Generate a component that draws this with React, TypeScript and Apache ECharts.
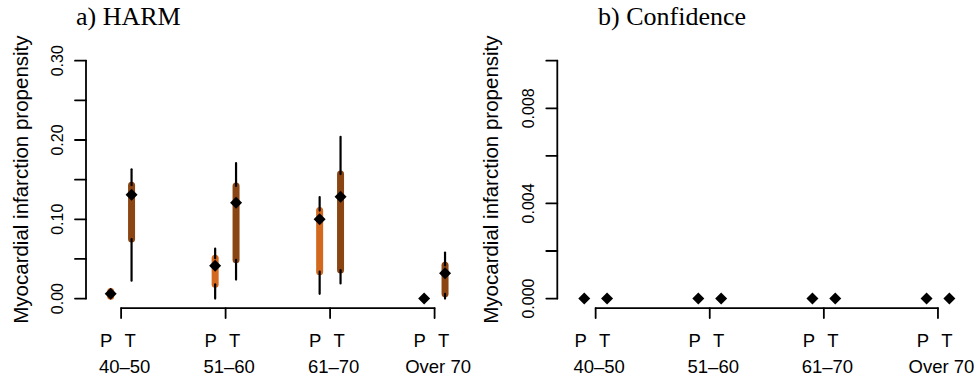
import React, { useEffect, useRef } from "react";
import * as echarts from "echarts";

// ---- data ----
const groups = ["40–50", "51–60", "61–70", "Over 70"];
const groupPos = [1, 2, 3, 4];

// a) HARM
const harmPEst = [0.006, 0.0415, 0.1, 0.0];
const harmPBarLo = [0.003, 0.018, 0.034, 0.0];
const harmPBarHi = [0.009, 0.051, 0.111, 0.0];
const harmPCiLo = [0.003, 0.0, 0.006, 0.0];
const harmPCiHi = [0.009, 0.063, 0.128, 0.0];
const harmTEst = [0.131, 0.121, 0.1285, 0.032];
const harmTBarLo = [0.075, 0.049, 0.036, 0.006];
const harmTBarHi = [0.143, 0.142, 0.157, 0.042];
const harmTCiLo = [0.0226, 0.024, 0.019, 0.0];
const harmTCiHi = [0.163, 0.171, 0.204, 0.058];

// b) Confidence
const confPEst = [0, 0, 0, 0];
const confTEst = [0, 0, 0, 0];
const confBarLo = [0, 0, 0, 0];
const confBarHi = [0, 0, 0, 0];

const harmYTicks = [0, 0.05, 0.1, 0.15, 0.2, 0.25, 0.3];
const harmYLabels = ["0.00", "0.10", "0.20", "0.30"];
const harmYLabelVals = [0, 0.1, 0.2, 0.3];
const confYTicks = [0, 0.002, 0.004, 0.006, 0.008, 0.01];
const confYLabels = ["0.000", "0.004", "0.008"];
const confYLabelVals = [0, 0.004, 0.008];

const panelTitles = ["a) HARM", "b) Confidence"];
const yTitle = "Myocardial infarction propensity";
const seriesLetters = ["P", "T"];

const X_MIN = 0.664;
const X_MAX = 4.336;
const OFFSET = 0.1;
const P_COLOR = "#D2691E";
const T_COLOR = "#8B4513";
const SANS = "Liberation Sans, Arial, Helvetica, sans-serif";

function intervalRender(color: string) {
  return (params: any, api: any) => {
    const x = api.value(0);
    const ciLo = api.value(1);
    const ciHi = api.value(2);
    const bLo = api.value(3);
    const bHi = api.value(4);
    const pCiLo = api.coord([x, ciLo]);
    const pCiHi = api.coord([x, ciHi]);
    const pBLo = api.coord([x, bLo]);
    const pBHi = api.coord([x, bHi]);
    const children: any[] = [];
    if (bHi > bLo) {
      children.push({
        type: "line",
        shape: { x1: pBLo[0], y1: pBLo[1], x2: pBHi[0], y2: pBHi[1] },
        style: { stroke: color, lineWidth: 7, lineCap: "round" },
      });
    }
    if (ciHi > bHi) {
      children.push({
        type: "line",
        shape: { x1: pBHi[0], y1: pBHi[1], x2: pCiHi[0], y2: pCiHi[1] },
        style: { stroke: "#000", lineWidth: 2.2, lineCap: "round" },
      });
    }
    if (bLo > ciLo) {
      children.push({
        type: "line",
        shape: { x1: pCiLo[0], y1: pCiLo[1], x2: pBLo[0], y2: pBLo[1] },
        style: { stroke: "#000", lineWidth: 2.2, lineCap: "round" },
      });
    }
    return { type: "group", children };
  };
}

function axesRender(ticks: number[], labelVals: number[], labels: string[]) {
  return (params: any, api: any) => {
    const cs = params.coordSys;
    const children: any[] = [];
    const stroke = { stroke: "#000", lineWidth: 1.8, lineCap: "round" };
    const bot = api.coord([X_MIN, ticks[0]]);
    const top = api.coord([X_MIN, ticks[ticks.length - 1]]);
    children.push({ type: "line", shape: { x1: bot[0], y1: bot[1], x2: top[0], y2: top[1] }, style: stroke });
    ticks.forEach((v) => {
      const p = api.coord([X_MIN, v]);
      children.push({ type: "line", shape: { x1: p[0] - 11, y1: p[1], x2: p[0], y2: p[1] }, style: stroke });
    });
    labelVals.forEach((v, i) => {
      const p = api.coord([X_MIN, v]);
      children.push({
        type: "text",
        x: p[0] - 29,
        y: p[1],
        rotation: Math.PI / 2,
        style: { text: labels[i], font: `16px ${SANS}`, fill: "#000", align: "center", verticalAlign: "middle" },
      });
    });
    const yb = cs.y + cs.height;
    const g0 = api.coord([groupPos[0], 0])[0];
    const g1 = api.coord([groupPos[groupPos.length - 1], 0])[0];
    children.push({ type: "line", shape: { x1: g0, y1: yb, x2: g1, y2: yb }, style: stroke });
    groupPos.forEach((g, i) => {
      const gx = api.coord([g, 0])[0];
      children.push({ type: "line", shape: { x1: gx, y1: yb, x2: gx, y2: yb + 10 }, style: stroke });
      children.push({
        type: "text", x: gx - 15, y: yb + 32,
        style: { text: seriesLetters[0], font: `18.5px ${SANS}`, fill: "#000", align: "center", verticalAlign: "middle" },
      });
      children.push({
        type: "text", x: gx + 9, y: yb + 32,
        style: { text: seriesLetters[1], font: `18.5px ${SANS}`, fill: "#000", align: "center", verticalAlign: "middle" },
      });
      children.push({
        type: "text", x: gx + 3.5, y: yb + 58,
        style: { text: groups[i], font: `18.5px ${SANS}`, fill: "#000", align: "center", verticalAlign: "middle" },
      });
    });
    return { type: "group", children };
  };
}

function rows(xs: number[], off: number, a: number[], b: number[], c: number[], d: number[]) {
  return xs.map((x, i) => [x + off, a[i], b[i], c[i], d[i]]);
}

export default function App() {
  const ref = useRef<HTMLDivElement>(null);
  useEffect(() => {
    if (!ref.current) return;
    const chart = echarts.init(ref.current, undefined, { renderer: "svg" });
    const grids = [
      { left: 86, top: 51.2, width: 383.7, height: 256.9 },
      { left: 557.3, top: 51.2, width: 419, height: 256.9 },
    ];
    const xAxis = [0, 1].map((i) => ({
      type: "value", gridIndex: i, min: X_MIN, max: X_MAX, show: false,
    }));
    const yAxis = [
      { type: "value", gridIndex: 0, min: -0.012, max: 0.312, show: false },
      { type: "value", gridIndex: 1, min: -0.0004, max: 0.0104, show: false },
    ];
    const diamond = (idx: number, data: number[][]) => ({
      type: "scatter", xAxisIndex: idx, yAxisIndex: idx, data,
      symbol: "diamond", symbolSize: 12, itemStyle: { color: "#000", opacity: 1 }, z: 10, silent: true,
    });
    const option: any = {
      animation: false,
      backgroundColor: "#fff",
      grid: grids,
      xAxis,
      yAxis,
      graphic: [
        { type: "text", x: 76, y: 16, style: { text: panelTitles[0], font: "26px Liberation Serif, Times New Roman, serif", fill: "#000", align: "left", verticalAlign: "middle" } },
        { type: "text", x: 598, y: 16, style: { text: panelTitles[1], font: "26px Liberation Serif, Times New Roman, serif", fill: "#000", align: "left", verticalAlign: "middle" } },
        { type: "text", x: 20, y: 179.6, rotation: Math.PI / 2, style: { text: yTitle, font: `20.5px ${SANS}`, fill: "#000", align: "center", verticalAlign: "middle" } },
        { type: "text", x: 490, y: 179.6, rotation: Math.PI / 2, style: { text: yTitle, font: `20.5px ${SANS}`, fill: "#000", align: "center", verticalAlign: "middle" } },
      ],
      series: [
        { type: "custom", xAxisIndex: 0, yAxisIndex: 0, data: [[1, 0]], renderItem: axesRender(harmYTicks, harmYLabelVals, harmYLabels), silent: true },
        { type: "custom", xAxisIndex: 1, yAxisIndex: 1, data: [[1, 0]], renderItem: axesRender(confYTicks, confYLabelVals, confYLabels), silent: true },
        { type: "custom", xAxisIndex: 0, yAxisIndex: 0, data: rows(groupPos, -OFFSET, harmPCiLo, harmPCiHi, harmPBarLo, harmPBarHi), renderItem: intervalRender(P_COLOR), encode: { x: 0, y: [1, 2] }, silent: true },
        { type: "custom", xAxisIndex: 0, yAxisIndex: 0, data: rows(groupPos, OFFSET, harmTCiLo, harmTCiHi, harmTBarLo, harmTBarHi), renderItem: intervalRender(T_COLOR), encode: { x: 0, y: [1, 2] }, silent: true },
        { type: "custom", xAxisIndex: 1, yAxisIndex: 1, data: rows(groupPos, -OFFSET, confBarLo, confBarHi, confBarLo, confBarHi), renderItem: intervalRender(P_COLOR), encode: { x: 0, y: [1, 2] }, silent: true },
        { type: "custom", xAxisIndex: 1, yAxisIndex: 1, data: rows(groupPos, OFFSET, confBarLo, confBarHi, confBarLo, confBarHi), renderItem: intervalRender(T_COLOR), encode: { x: 0, y: [1, 2] }, silent: true },
        diamond(0, groupPos.map((g, i) => [g - OFFSET, harmPEst[i]])),
        diamond(0, groupPos.map((g, i) => [g + OFFSET, harmTEst[i]])),
        diamond(1, groupPos.map((g, i) => [g - OFFSET, confPEst[i]])),
        diamond(1, groupPos.map((g, i) => [g + OFFSET, confTEst[i]])),
      ],
    };
    chart.setOption(option);
    return () => chart.dispose();
  }, []);
  return (
    <div
      ref={ref}
      style={{ position: "fixed", left: 0, top: 0, width: 977, height: 376, background: "#fff" }}
    />
  );
}
